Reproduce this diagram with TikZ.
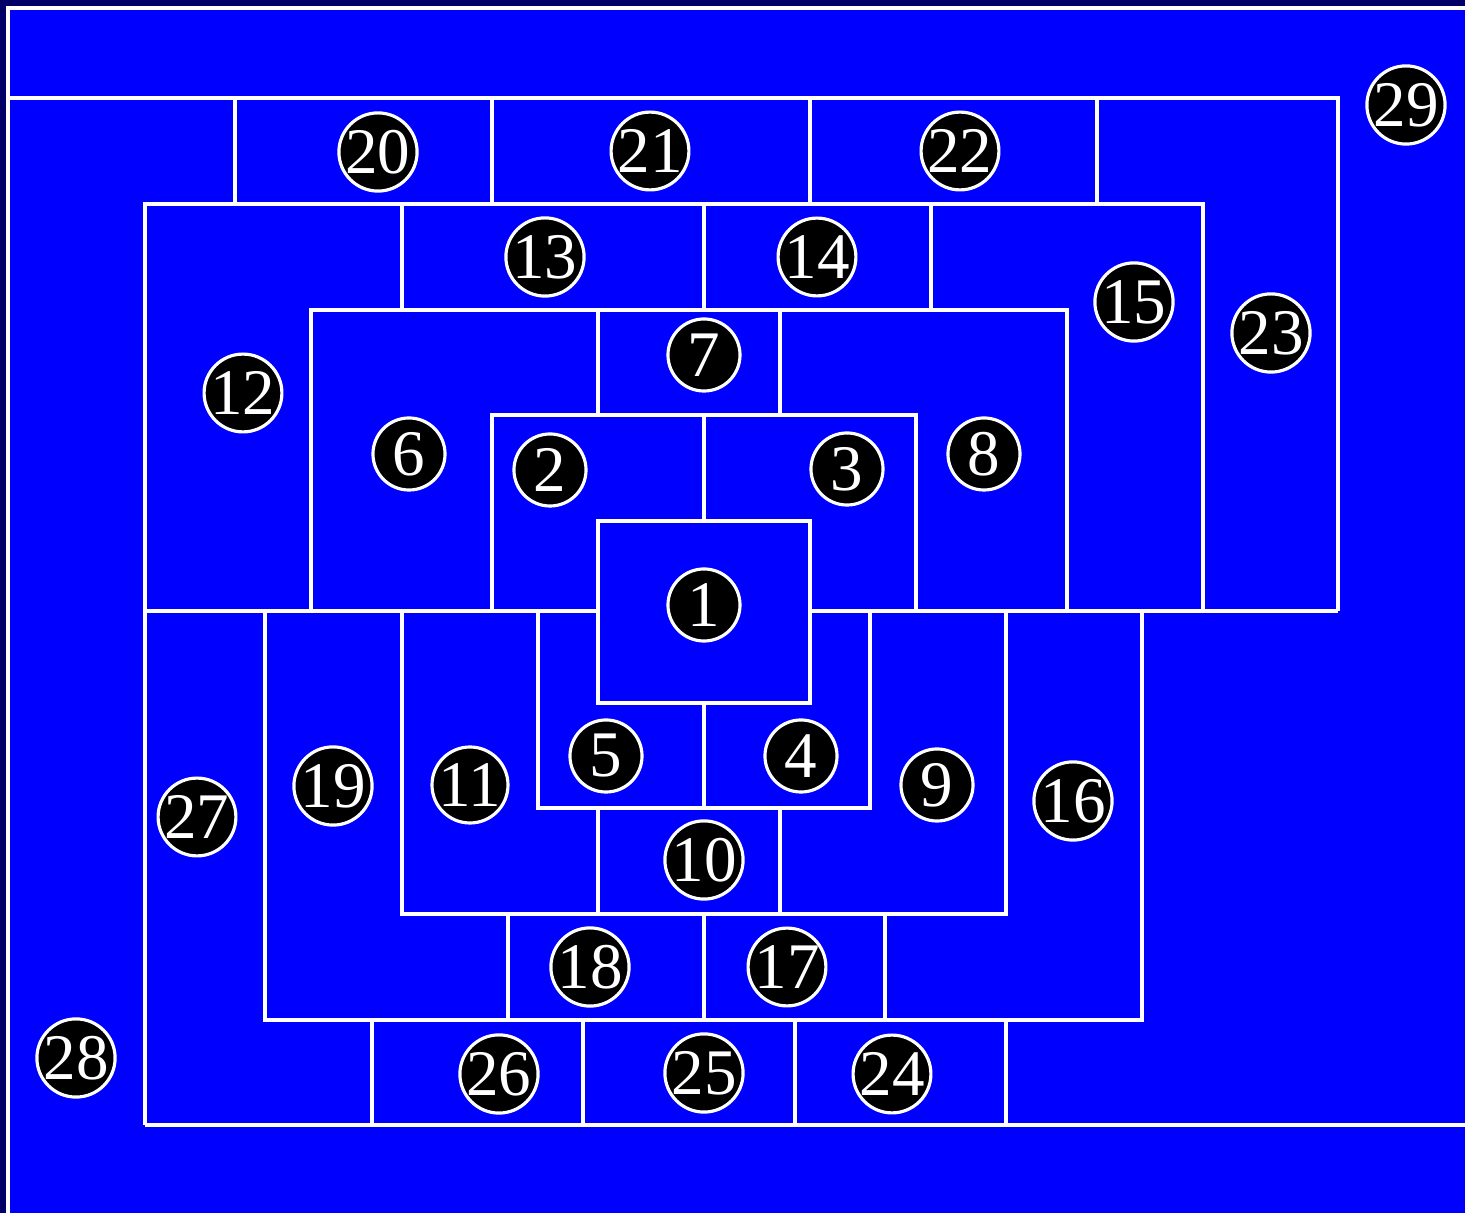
\documentclass[tikz,border=0pt]{standalone}
\usepackage{fontspec}
\setmainfont{Liberation Serif}
\definecolor{navy}{RGB}{0,0,102}
\definecolor{pureblue}{RGB}{0,0,255}
\tikzset{
  wall/.style={white,line width=0.9pt},
  num/.style={circle,fill=black,draw=white,line width=0.9pt,minimum size=0.72cm,inner sep=0pt,text=white,font=\fontsize{18.5}{18.5}\selectfont}
}

\begin{document}
\begin{tikzpicture}[x=0.01cm,y=-0.01cm]
\useasboundingbox (0,0) rectangle (1465,1213);
\fill[navy] (0,0) rectangle (1465,1213);
\fill[pureblue] (8,8) rectangle (1465,1213);
\draw[wall] (8,1213) -- (8,8) -- (1465,8);
% upper rings
\draw[wall] (8,98) -- (1338,98) -- (1338,611);
\draw[wall] (235,98) -- (235,204);
\draw[wall] (492,98) -- (492,204);
\draw[wall] (810,98) -- (810,204);
\draw[wall] (1097,98) -- (1097,204);
\draw[wall] (145,1125) -- (145,204) -- (1203,204) -- (1203,611);
\draw[wall] (402,204) -- (402,310);
\draw[wall] (704,204) -- (704,310);
\draw[wall] (931,204) -- (931,310);
\draw[wall] (311,611) -- (311,310) -- (1067,310) -- (1067,611);
\draw[wall] (598,310) -- (598,415);
\draw[wall] (780,310) -- (780,415);
\draw[wall] (492,611) -- (492,415) -- (916,415) -- (916,611);
\draw[wall] (704,415) -- (704,521);
% centre box
\draw[wall] (598,521) rectangle (810,703);
\draw[wall] (145,611) -- (598,611);
\draw[wall] (810,611) -- (1338,611);
% lower rings
\draw[wall] (538,611) -- (538,808) -- (870,808) -- (870,611);
\draw[wall] (704,703) -- (704,808);
\draw[wall] (402,611) -- (402,914) -- (1006,914) -- (1006,611);
\draw[wall] (598,808) -- (598,914);
\draw[wall] (780,808) -- (780,914);
\draw[wall] (265,611) -- (265,1020) -- (1142,1020) -- (1142,611);
\draw[wall] (508,914) -- (508,1020);
\draw[wall] (704,914) -- (704,1020);
\draw[wall] (885,914) -- (885,1020);
\draw[wall] (145,1125) -- (1465,1125);
\draw[wall] (372,1020) -- (372,1125);
\draw[wall] (583,1020) -- (583,1125);
\draw[wall] (795,1020) -- (795,1125);
\draw[wall] (1006,1020) -- (1006,1125);
% numbered rooms
\node[num] (n1) at (704,605) {1};
\node[num] (n2) at (550,470) {2};
\node[num] (n3) at (847,469) {3};
\node[num] (n4) at (801,756) {4};
\node[num] (n5) at (606,756) {5};
\node[num] (n6) at (409,454) {6};
\node[num] (n7) at (704,355) {7};
\node[num] (n8) at (984,454) {8};
\node[num] (n9) at (937,785) {9};
\node[num] (n10) at (704,860) {10};
\node[num] (n11) at (470,785) {11};
\node[num] (n12) at (243,393) {12};
\node[num] (n13) at (545,257) {13};
\node[num] (n14) at (817,257) {14};
\node[num] (n15) at (1134,302) {15};
\node[num] (n16) at (1073,801) {16};
\node[num] (n17) at (787,967) {17};
\node[num] (n18) at (590,967) {18};
\node[num] (n19) at (333,786) {19};
\node[num] (n20) at (378,152) {20};
\node[num] (n21) at (650,151) {21};
\node[num] (n22) at (960,151) {22};
\node[num] (n23) at (1271,333) {23};
\node[num] (n24) at (892,1074) {24};
\node[num] (n25) at (704,1073) {25};
\node[num] (n26) at (499,1074) {26};
\node[num] (n27) at (197,817) {27};
\node[num] (n28) at (76,1058) {28};
\node[num] (n29) at (1406,105) {29};
\end{tikzpicture}
\end{document}
